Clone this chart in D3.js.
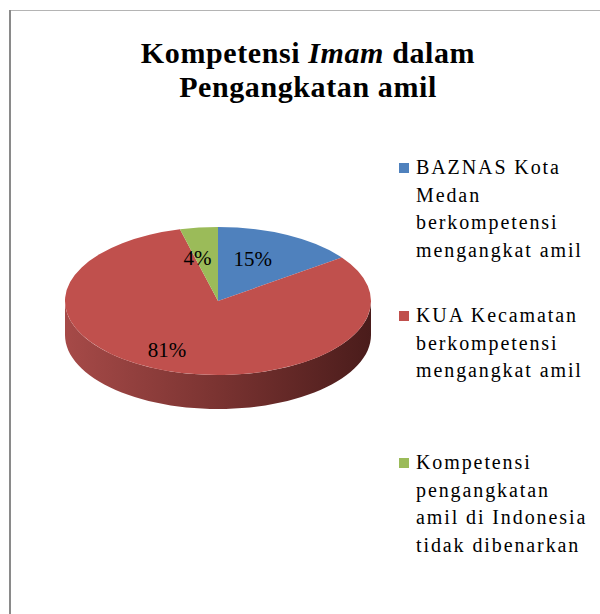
<!DOCTYPE html>
<html>
<head>
<meta charset="utf-8">
<script src="https://cdn.jsdelivr.net/npm/d3@7"></script>
<style>
  body { margin: 0; background: #fff; }
</style>
</head>
<body>
<div id="chart"></div>
<script>
const categories = [
  'BAZNAS Kota Medan berkompetensi mengangkat amil',
  'KUA Kecamatan berkompetensi mengangkat amil',
  'Kompetensi pengangkatan amil di Indonesia tidak dibenarkan'
];
const values = [15, 81, 4];
const legendLines = [
  ['BAZNAS Kota', 'Medan', 'berkompetensi', 'mengangkat amil'],
  ['KUA Kecamatan', 'berkompetensi', 'mengangkat amil'],
  ['Kompetensi', 'pengangkatan', 'amil di Indonesia', 'tidak dibenarkan']
];
const colors = ['#4F81BD', '#C0504D', '#9BBB59'];

const FONT = '"Liberation Serif"';
const W = 600, H = 614;
const cx = 218, cy = 301, rx = 153, ry = 74, depth = 34;
// label nudges from the arc centroid, px
const labelNudge = [[0, -9], [-25, 14], [-11, -7]];

const svg = d3.select('#chart').append('svg')
  .attr('width', W).attr('height', H);

svg.append('rect').attr('width', W).attr('height', H).attr('fill', '#fff');

// frame (right and bottom edges are cut off in the picture)
svg.append('line').attr('x1', 9).attr('x2', W).attr('y1', 10.5).attr('y2', 10.5)
  .attr('stroke', '#b4b4b4').attr('stroke-width', 1);
svg.append('line').attr('x1', 10).attr('x2', 10).attr('y1', 10).attr('y2', H)
  .attr('stroke', '#8a8a8a').attr('stroke-width', 2);

// title
const title = svg.append('text')
  .style('font-family', FONT)
  .style('font-weight', 'bold')
  .style('font-size', '30px')
  .style('letter-spacing', '0.6px')
  .attr('text-anchor', 'middle');
const t1 = title.append('tspan').attr('x', 308).attr('y', 63);
t1.append('tspan').text('Kompetensi ');
t1.append('tspan').style('font-style', 'italic').text('Imam');
t1.append('tspan').text(' dalam');
title.append('tspan').attr('x', 308).attr('y', 97).text('Pengangkatan amil');

// pie
const pie = d3.pie().sort(null).value(d => d);
const arcs = pie(values);
const arc = d3.arc().innerRadius(0).outerRadius(rx);

const defs = svg.append('defs');
const grad = defs.append('linearGradient').attr('id', 'sideGrad')
  .attr('gradientUnits', 'userSpaceOnUse')
  .attr('x1', cx - rx).attr('x2', cx + rx).attr('y1', 0).attr('y2', 0);
grad.append('stop').attr('offset', '0').attr('stop-color', '#a64a48');
grad.append('stop').attr('offset', '0.5').attr('stop-color', '#7a3331');
grad.append('stop').attr('offset', '1').attr('stop-color', '#4a1c1b');

const ex = a => cx + rx * Math.sin(a);
const ey = a => cy - ry * Math.cos(a);

// side wall: visible front half, angles PI/2 .. 3PI/2 (clockwise from top)
arcs.forEach((d, i) => {
  const s = Math.max(d.startAngle, Math.PI / 2);
  const e = Math.min(d.endAngle, 3 * Math.PI / 2);
  if (e <= s) return;
  const steps = d3.range(0, 61).map(k => s + (e - s) * k / 60);
  const top = steps.map(a => [ex(a), ey(a)]);
  const bottom = steps.slice().reverse().map(a => [ex(a), ey(a) + depth]);
  svg.append('path')
    .attr('d', d3.line()(top.concat(bottom)) + 'Z')
    .attr('fill', i === 1 ? 'url(#sideGrad)' : d3.color(colors[i]).darker(1));
});

const topFace = svg.append('g')
  .attr('transform', `translate(${cx},${cy}) scale(1,${ry / rx})`);
topFace.selectAll('path')
  .data(arcs)
  .join('path')
  .attr('d', arc)
  .attr('fill', (d, i) => colors[i]);

// data labels
svg.selectAll('.lbl')
  .data(arcs)
  .join('text')
  .attr('class', 'lbl')
  .style('font-family', FONT)
  .style('font-size', '21px')
  .attr('x', (d, i) => cx + arc.centroid(d)[0] + labelNudge[i][0])
  .attr('y', (d, i) => cy + arc.centroid(d)[1] * ry / rx + labelNudge[i][1])
  .attr('dy', '0.35em')
  .attr('text-anchor', 'middle')
  .attr('fill', '#000')
  .text(d => d.data + '%');

// legend
const legendTop = [174, 322, 469];
const lg = svg.selectAll('.legend')
  .data(categories)
  .join('g')
  .attr('class', 'legend');
lg.append('rect')
  .attr('x', 399)
  .attr('y', (d, i) => legendTop[i] - 11)
  .attr('width', 10).attr('height', 10)
  .attr('fill', (d, i) => colors[i]);
lg.append('text')
  .style('font-family', FONT)
  .style('font-size', '20px')
  .style('letter-spacing', '1.9px')
  .attr('fill', '#000')
  .each(function(d, i) {
    d3.select(this).selectAll('tspan')
      .data(legendLines[i])
      .join('tspan')
      .attr('x', 416)
      .attr('y', (l, j) => legendTop[i] + j * 27.7)
      .text(l => l);
  });
</script>
</body>
</html>
